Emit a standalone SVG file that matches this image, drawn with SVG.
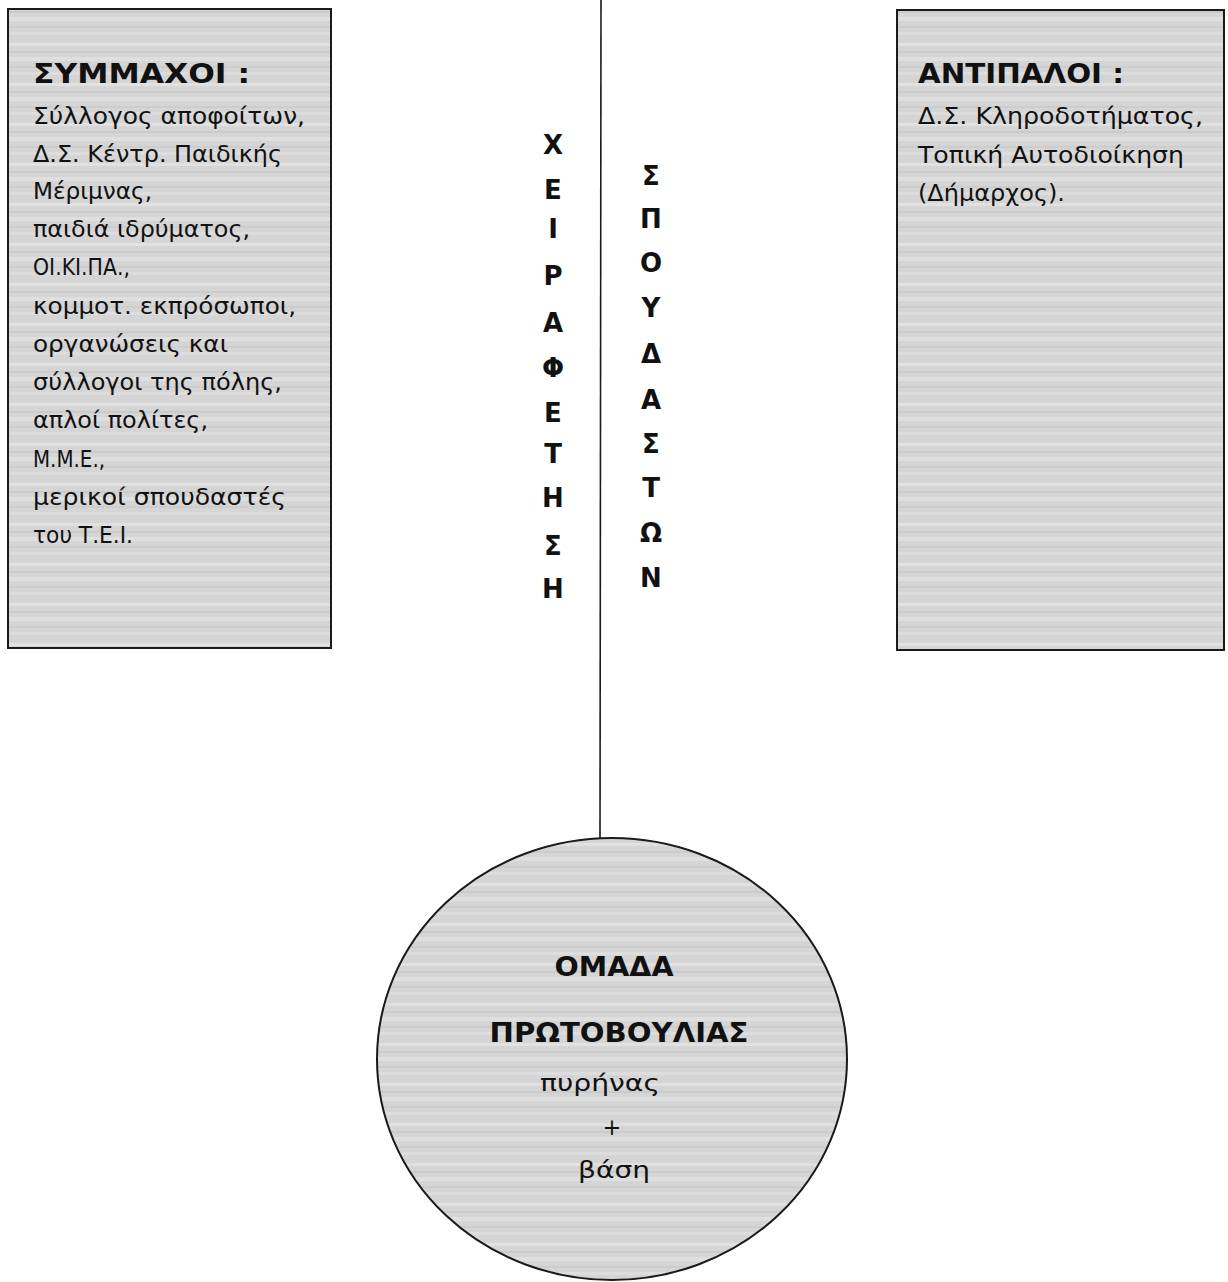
<svg xmlns="http://www.w3.org/2000/svg" width="1228" height="1282" viewBox="0 0 1228 1282">
<defs>
<pattern id="scan" patternUnits="userSpaceOnUse" width="1228" height="40">
<rect width="1228" height="40" fill="#d5d5d5"/>
<rect y="3" width="1228" height="3" fill="#e1e1e1"/>
<rect y="11" width="1228" height="2" fill="#cbcbcb"/>
<rect y="17" width="1228" height="4" fill="#dfdfdf"/>
<rect y="26" width="1228" height="2" fill="#cdcdcd"/>
<rect y="32" width="1228" height="3" fill="#dddddd"/>
</pattern>
<style>
.box{fill:url(#scan);stroke:#1a1a1a;stroke-width:2}
.t{font-family:"DejaVu Sans","Noto Sans",sans-serif;fill:#111}
.title{font-size:26px;font-weight:bold}
.body{font-size:22.5px}
.vert{font-size:26px;font-weight:bold;text-anchor:middle}
.ctr{text-anchor:middle}
.conn{stroke:#1a1a1a;stroke-width:1.6;fill:none}
</style>
</defs>
<rect width="1228" height="1282" fill="#ffffff"/>
<g id="connectors">
<line class="conn" x1="601" y1="0" x2="600" y2="838"/>
</g>
<g id="allies">
<rect class="box" x="8" y="9" width="323" height="639"/>
<text class="t title" x="33" y="83" textLength="217" lengthAdjust="spacingAndGlyphs">ΣΥΜΜΑΧΟΙ :</text>
<text class="t body" x="33" y="124" textLength="272" lengthAdjust="spacingAndGlyphs">Σύλλογος αποφοίτων,</text>
<text class="t body" x="33" y="162" textLength="249" lengthAdjust="spacingAndGlyphs">Δ.Σ. Κέντρ. Παιδικής</text>
<text class="t body" x="33" y="199" textLength="119" lengthAdjust="spacingAndGlyphs">Μέριμνας,</text>
<text class="t body" x="33" y="237" textLength="217" lengthAdjust="spacingAndGlyphs">παιδιά ιδρύματος,</text>
<text class="t body" x="33" y="275" textLength="97" lengthAdjust="spacingAndGlyphs">ΟΙ.ΚΙ.ΠΑ.,</text>
<text class="t body" x="33" y="314" textLength="263" lengthAdjust="spacingAndGlyphs">κομμοτ. εκπρόσωποι,</text>
<text class="t body" x="33" y="352" textLength="195" lengthAdjust="spacingAndGlyphs">οργανώσεις και</text>
<text class="t body" x="33" y="390" textLength="249" lengthAdjust="spacingAndGlyphs">σύλλογοι της πόλης,</text>
<text class="t body" x="33" y="428" textLength="175" lengthAdjust="spacingAndGlyphs">απλοί πολίτες,</text>
<text class="t body" x="33" y="467" textLength="72" lengthAdjust="spacingAndGlyphs">Μ.Μ.Ε.,</text>
<text class="t body" x="33" y="505" textLength="253" lengthAdjust="spacingAndGlyphs">μερικοί σπουδαστές</text>
<text class="t body" x="33" y="543" textLength="100" lengthAdjust="spacingAndGlyphs">του Τ.Ε.Ι.</text>
</g>
<g id="opponents">
<rect class="box" x="897" y="10" width="327" height="640"/>
<text class="t title" x="918" y="83" textLength="206" lengthAdjust="spacingAndGlyphs">ΑΝΤΙΠΑΛΟΙ :</text>
<text class="t body" x="918" y="124" textLength="285" lengthAdjust="spacingAndGlyphs">Δ.Σ. Κληροδοτήματος,</text>
<text class="t body" x="918" y="163" textLength="266" lengthAdjust="spacingAndGlyphs">Τοπική Αυτοδιοίκηση</text>
<text class="t body" x="918" y="201" textLength="147" lengthAdjust="spacingAndGlyphs">(Δήμαρχος).</text>
</g>
<g id="label-left">
<text class="t vert" x="553" y="154">Χ</text>
<text class="t vert" x="553" y="199">Ε</text>
<text class="t vert" x="553" y="238">Ι</text>
<text class="t vert" x="553" y="285">Ρ</text>
<text class="t vert" x="553" y="332">Α</text>
<text class="t vert" x="553" y="377">Φ</text>
<text class="t vert" x="553" y="422">Ε</text>
<text class="t vert" x="553" y="463">Τ</text>
<text class="t vert" x="553" y="507">Η</text>
<text class="t vert" x="553" y="555">Σ</text>
<text class="t vert" x="553" y="598">Η</text>
</g>
<g id="label-right">
<text class="t vert" x="651" y="185">Σ</text>
<text class="t vert" x="651" y="228">Π</text>
<text class="t vert" x="651" y="272">Ο</text>
<text class="t vert" x="651" y="317">Υ</text>
<text class="t vert" x="651" y="363">Δ</text>
<text class="t vert" x="651" y="409">Α</text>
<text class="t vert" x="651" y="453">Σ</text>
<text class="t vert" x="651" y="497">Τ</text>
<text class="t vert" x="651" y="542">Ω</text>
<text class="t vert" x="651" y="587">Ν</text>
</g>
<g id="initiative-group">
<ellipse class="box" cx="612" cy="1059" rx="235" ry="221" stroke-width="1.6"/>
<text class="t title ctr" x="614" y="976" textLength="119" lengthAdjust="spacingAndGlyphs">ΟΜΑΔΑ</text>
<text class="t title ctr" x="619" y="1042" textLength="259" lengthAdjust="spacingAndGlyphs">ΠΡΩΤΟΒΟΥΛΙΑΣ</text>
<text class="t body ctr" x="600" y="1091" font-size="24" textLength="120" lengthAdjust="spacingAndGlyphs">πυρήνας</text>
<text class="t body ctr" x="612" y="1135" font-size="24">+</text>
<text class="t body ctr" x="614" y="1178" font-size="24" textLength="72" lengthAdjust="spacingAndGlyphs">βάση</text>
</g>
</svg>
